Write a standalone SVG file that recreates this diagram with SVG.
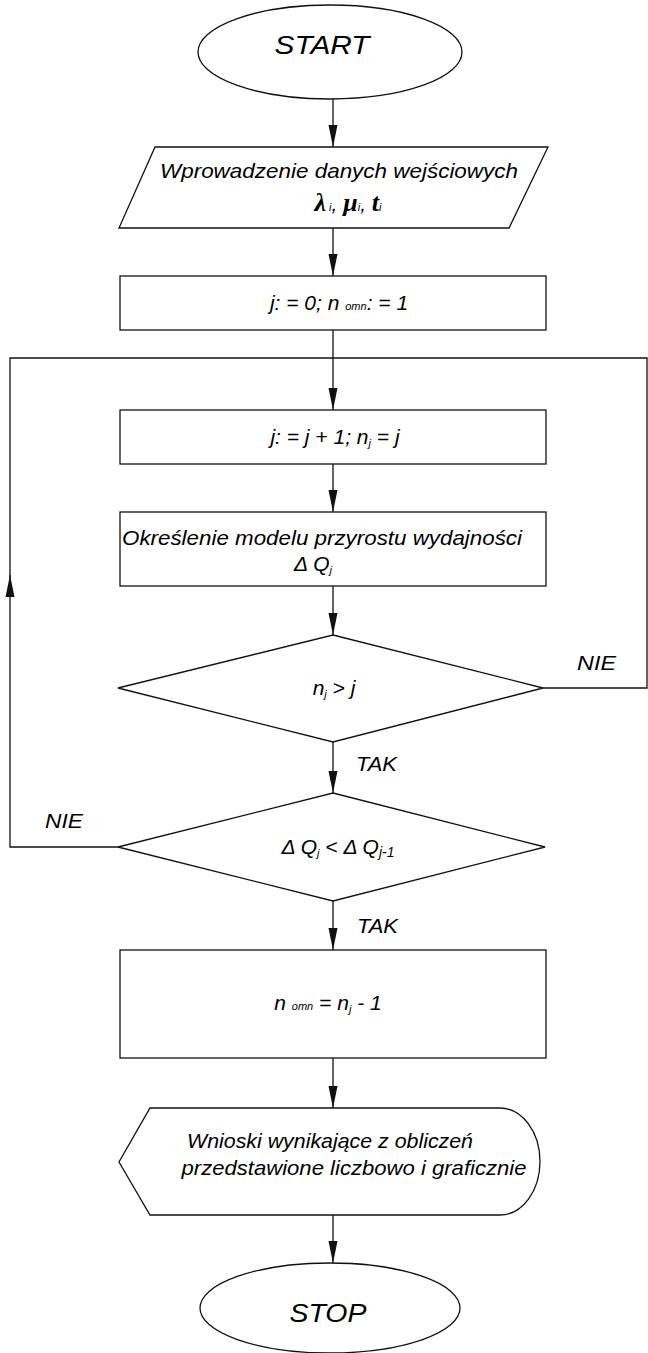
<svg xmlns="http://www.w3.org/2000/svg" width="648" height="1353" viewBox="0 0 648 1353">
<style>
.s{fill:#fff;stroke:#111;stroke-width:1.3}
.c{fill:none;stroke:#111;stroke-width:1.3}
.t{font-family:"Liberation Sans",Arial,sans-serif;font-style:italic;font-size:21px;fill:#000}
.g{font-family:"Liberation Serif","Times New Roman",serif;font-style:italic;font-weight:bold;font-size:26px}
.sub{font-size:11px}
</style>
<defs>
<marker id="ah" viewBox="0 -5 22 10" markerWidth="22" markerHeight="10" refX="22" refY="0" orient="auto" markerUnits="userSpaceOnUse">
<path d="M0,-4.5 L22,0 L0,4.5 Z" fill="#111"/>
</marker>
</defs>
<rect width="648" height="1353" fill="#fff"/>
<g id="connectors">
<path class="c" d="M333,99 V147" marker-end="url(#ah)"/>
<path class="c" d="M333,228 V276" marker-end="url(#ah)"/>
<path class="c" d="M333,330 V410" marker-end="url(#ah)"/>
<path class="c" d="M333,464 V512" marker-end="url(#ah)"/>
<path class="c" d="M333,586 V635" marker-end="url(#ah)"/>
<path class="c" d="M333,742 V793" marker-end="url(#ah)"/>
<path class="c" d="M333,901 V950" marker-end="url(#ah)"/>
<path class="c" d="M333,1058 V1108" marker-end="url(#ah)"/>
<path class="c" d="M333,1215 V1263" marker-end="url(#ah)"/>
<path class="c" d="M543,688 H647 V358 H333"/>
<path class="c" d="M118,847 H10 V575" marker-end="url(#ah)"/>
<path class="c" d="M10,577 V358 H333"/>
<text class="t" x="577" y="670" textLength="39" lengthAdjust="spacingAndGlyphs">NIE</text>
<text class="t" x="356" y="771" textLength="41" lengthAdjust="spacingAndGlyphs">TAK</text>
<text class="t" x="45" y="828" textLength="38" lengthAdjust="spacingAndGlyphs">NIE</text>
<text class="t" x="357" y="933" textLength="41" lengthAdjust="spacingAndGlyphs">TAK</text>
</g>
<g id="start">
<ellipse class="s" cx="330" cy="52" rx="132" ry="47"/>
<text class="t" x="322" y="54" text-anchor="middle" textLength="95" lengthAdjust="spacingAndGlyphs" style="font-size:26px">START</text>
</g>
<g id="input">
<path class="s" d="M155,147 L548,147 L509,228 L119,228 Z"/>
<text class="t" x="339" y="178" text-anchor="middle" textLength="358" lengthAdjust="spacingAndGlyphs">Wprowadzenie danych wejściowych</text>
<text class="t" x="348" y="211" text-anchor="middle"><tspan class="g">λ</tspan><tspan class="sub"> i</tspan>, <tspan class="g">μ</tspan><tspan class="sub">i</tspan>, <tspan class="g">t</tspan><tspan class="sub">i</tspan></text>
</g>
<g id="init">
<rect class="s" x="120" y="276" width="426" height="54"/>
<text class="t" x="339" y="310" text-anchor="middle">j: = 0; n <tspan class="sub">omn</tspan>: = 1</text>
</g>
<g id="incr">
<rect class="s" x="120" y="410" width="426" height="54"/>
<text class="t" x="335" y="444" text-anchor="middle">j: = j + 1; n<tspan class="sub" dy="3">j</tspan><tspan dy="-3"> = j</tspan></text>
</g>
<g id="model">
<rect class="s" x="120" y="512" width="426" height="74"/>
<text class="t" x="322" y="545" text-anchor="middle" textLength="400" lengthAdjust="spacingAndGlyphs">Określenie modelu przyrostu wydajności</text>
<text class="t" x="313" y="571" text-anchor="middle">Δ Q<tspan class="sub" dy="3">j</tspan></text>
</g>
<g id="cond1">
<path class="s" d="M333,635 L543,688 L333,742 L118,688 Z"/>
<text class="t" x="334" y="695" text-anchor="middle">n<tspan class="sub" dy="3">j</tspan><tspan dy="-3"> &gt; j</tspan></text>
</g>
<g id="cond2">
<path class="s" d="M333,793 L545,847 L333,901 L118,847 Z"/>
<text class="t" x="338" y="854" text-anchor="middle">Δ Q<tspan class="sub" dy="3">j</tspan><tspan dy="-3"> &lt; Δ Q</tspan><tspan class="sub" dy="3" style="font-size:14px">j-1</tspan></text>
</g>
<g id="result">
<rect class="s" x="120" y="950" width="426" height="108"/>
<text class="t" x="328" y="1010" text-anchor="middle">n <tspan class="sub">omn</tspan> = n<tspan class="sub" dy="3">j</tspan><tspan dy="-3"> - 1</tspan></text>
</g>
<g id="output">
<path class="s" d="M150,1108 L500,1108 A40,53.5 0 0 1 500,1215 L150,1215 L119,1162 Z"/>
<text class="t" x="330" y="1148" text-anchor="middle" textLength="286" lengthAdjust="spacingAndGlyphs">Wnioski wynikające z obliczeń</text>
<text class="t" x="354" y="1175" text-anchor="middle" textLength="345" lengthAdjust="spacingAndGlyphs">przedstawione liczbowo i graficznie</text>
</g>
<g id="stop">
<ellipse class="s" cx="330" cy="1308" rx="130" ry="45"/>
<text class="t" x="328" y="1322" text-anchor="middle" textLength="77" lengthAdjust="spacingAndGlyphs" style="font-size:26px">STOP</text>
</g>
</svg>
